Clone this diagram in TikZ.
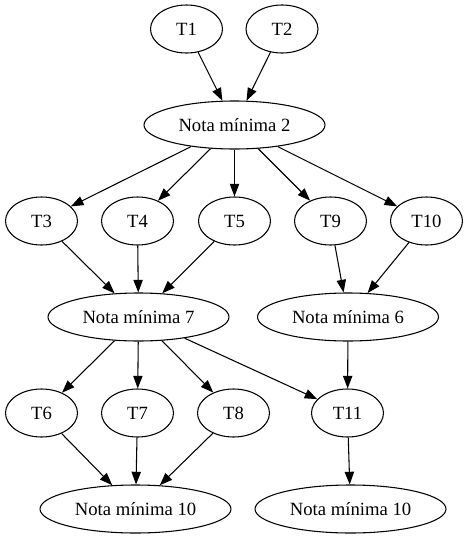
\documentclass[tikz,border=0pt]{standalone}
\usepackage{fontspec}
\setmainfont{Liberation Serif}
\usetikzlibrary{shapes.geometric,arrows.meta}
\begin{document}
\begin{tikzpicture}[x=0.75pt,y=-0.75pt,
  every node/.style={ellipse,draw,line width=0.8pt,inner sep=0pt,minimum height=36pt,font=\fontsize{14pt}{16pt}\selectfont},
  tnode/.style={minimum width=54pt},
  nota/.style={minimum width=135.75pt},
  notab/.style={minimum width=143.25pt},
  edge/.style={draw,line width=0.8pt,-{Triangle[length=9.5pt,width=7pt]}}]
\useasboundingbox (0,0) rectangle (468,539);
\node[tnode] (t1) at (186.5,29) {T1};
\node[tnode] (t2) at (282,29) {T2};
\node[nota] (nm2) at (234.5,125) {Nota mínima 2};
\node[tnode] (t3) at (41.5,221) {T3};
\node[tnode] (t4) at (137.5,221) {T4};
\node[tnode] (t5) at (234.5,221) {T5};
\node[tnode] (t9) at (330.5,221) {T9};
\node[tnode] (t10) at (426.5,221) {T10};
\node[nota] (nm7) at (138.5,317) {Nota mínima 7};
\node[nota] (nm6) at (348,317) {Nota mínima 6};
\node[tnode] (t6) at (41.5,413) {T6};
\node[tnode] (t7) at (137.5,413) {T7};
\node[tnode] (t8) at (233.5,413) {T8};
\node[tnode] (t11) at (347.5,413) {T11};
\node[notab] (nm10a) at (135.5,509) {Nota mínima 10};
\node[notab] (nm10b) at (350.5,509) {Nota mínima 10};
\path[edge] (t1) -- (nm2);
\path[edge] (t2) -- (nm2);
\path[edge] (nm2) -- (t3);
\path[edge] (nm2) -- (t4);
\path[edge] (nm2) -- (t5);
\path[edge] (nm2) -- (t9);
\path[edge] (nm2) -- (t10);
\path[edge] (t3) -- (nm7);
\path[edge] (t4) -- (nm7);
\path[edge] (t5) -- (nm7);
\path[edge] (t9) -- (nm6);
\path[edge] (t10) -- (nm6);
\path[edge] (nm7) -- (t6);
\path[edge] (nm7) -- (t7);
\path[edge] (nm7) -- (t8);
\path[edge] (nm7) -- (t11);
\path[edge] (nm6) -- (t11);
\path[edge] (t6) -- (nm10a);
\path[edge] (t7) -- (nm10a);
\path[edge] (t8) -- (nm10a);
\path[edge] (t11) -- (nm10b);
\end{tikzpicture}
\end{document}
